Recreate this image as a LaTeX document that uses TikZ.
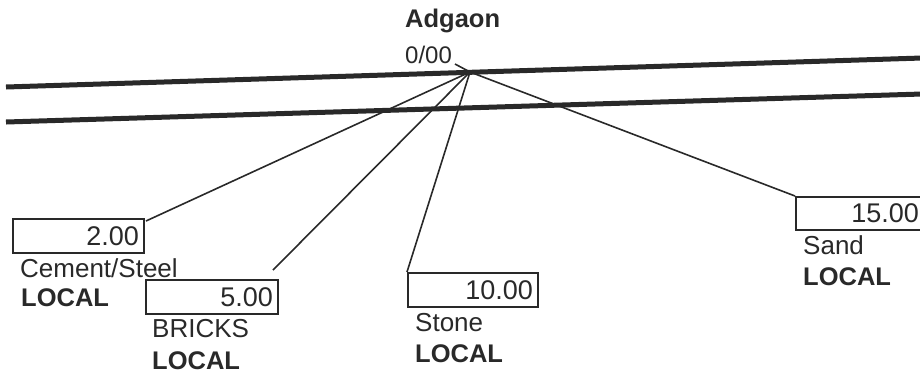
\documentclass[tikz,border=0pt]{standalone}
\usepackage{fontspec}
\setmainfont{Liberation Sans}
\definecolor{ink}{gray}{0.16}
\begin{document}
\begin{tikzpicture}[x=1pt,y=-1pt,
  road/.style={draw=ink,line width=5pt},
  conn/.style={draw=ink,line width=1.6pt},
  valbox/.style={draw=ink,line width=2pt,minimum height=34pt,inner sep=5pt,align=right,anchor=north west,font=\fontsize{27}{30}\selectfont,text=ink},
  lbl/.style={anchor=west,inner sep=0pt,font=\fontsize{26}{29}\selectfont,text=ink},
  blbl/.style={anchor=west,inner sep=0pt,font=\fontsize{25.5}{29}\selectfont\bfseries,text=ink}]
\useasboundingbox (0,0) rectangle (920,376);
% road
\coordinate (r1a) at (6,87);
\coordinate (r1b) at (922,58);
\coordinate (r2a) at (6,122);
\coordinate (r2b) at (922,94);
\draw[road] (r1a) -- (r1b);
\draw[road] (r2a) -- (r2b);
% station
\node[blbl] (adg) at (405,21) {Adgaon};
\node[lbl,font=\fontsize{24}{27}\selectfont] (ch) at (405,55) {0/00};
\coordinate (apex) at (470,72);
\coordinate (tick) at (455,64);
\draw[conn] (tick) -- (apex);
% boxes
\node[valbox,text width=121pt] (b1) at (12,218) {2.00};
\node[lbl] (l1) at (20,268) {Cement/Steel};
\node[blbl] (L1) at (21,298) {LOCAL};
\node[valbox,text width=122pt] (b2) at (145,279) {5.00};
\node[lbl] (l2) at (152,329) {BRICKS};
\node[blbl] (L2) at (152,361) {LOCAL};
\node[valbox,text width=120pt] (b3) at (407,272) {10.00};
\node[lbl] (l3) at (415,323) {Stone};
\node[blbl] (L3) at (415,354) {LOCAL};
\node[valbox,text width=118pt,minimum height=33pt] (b4) at (795,196) {15.00};
\node[lbl] (l4) at (803,245) {Sand};
\node[blbl] (L4) at (803,277) {LOCAL};
% connectors
\coordinate (e1) at (146,221);
\coordinate (e2) at (273,270);
\draw[conn] (apex) -- (e1);
\draw[conn] (apex) -- (e2);
\draw[conn] (apex) -- (b3.north west);
\draw[conn] (apex) -- (b4.north west);
\end{tikzpicture}
\end{document}
